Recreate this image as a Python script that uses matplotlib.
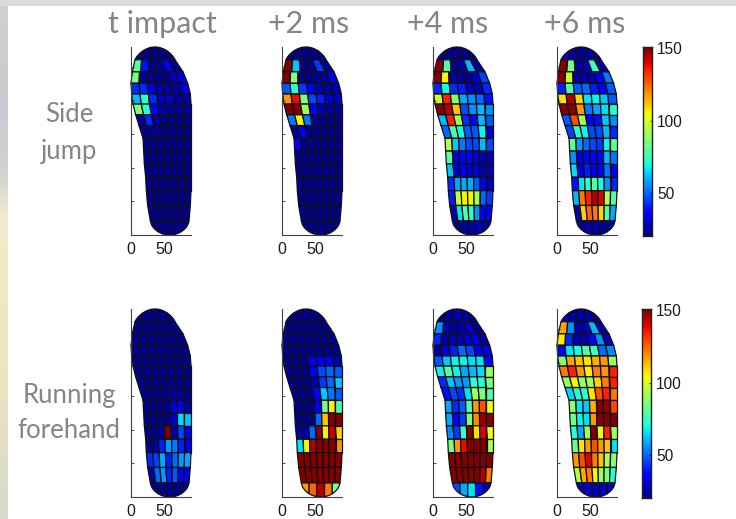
import numpy as np
import matplotlib
matplotlib.use("Agg")
import matplotlib.pyplot as plt
from matplotlib.collections import PolyCollection
from matplotlib.colors import LinearSegmentedColormap

W = 736
H = 519
VMIN = 20
VMAX = 151

titles = ["t impact", "+2 ms", "+4 ms", "+6 ms"]
title_x = [162, 309, 448, 585]
panel_x = [131, 282, 433, 557]
row_bottom = [235, 497]
cbar_x = [643, 642]
row_labels = ["Side", "jump", "Running", "forehand"]
row_label_y = [115, 152, 395, 430]
cbar_ticks = [50, 100, 150]

# insole outline in data units, from heel to toe
edge_y = [21, 44, 66, 86, 106, 125, 144, 163, 179, 195, 210, 226, 243, 261]
edge_left = [29, 25, 23, 22, 20, 19, 18, 12, 7, 3, 1, 0, 2, 6]
edge_right = [87, 89, 90, 90, 90, 90, 90, 90, 90, 90, 89, 85, 78, 66]
heel_x = 58
toe_x = 36
foot_height = 280

# sensor values, rows from toe to heel
side_0 = [
    [22, 22, 22, 22, 22],
    [80, 38, 22, 24, 36, 22],
    [85, 24, 22, 22, 22, 28, 32],
    [42, 42, 32, 26, 24, 24, 32],
    [60, 72, 42, 28, 30, 24, 24],
    [85, 72, 36, 25, 24, 24, 24],
    [24, 42, 24, 22, 22, 22, 22],
    [22, 22, 23, 22, 22, 22, 22],
    [22, 22, 22, 22, 22, 22, 22],
    [22, 22, 22, 22, 22, 22, 22],
    [22, 22, 22, 22, 22, 22, 22],
    [22, 22, 22, 22, 22, 22, 22],
    [22, 22, 22, 22, 22, 22, 22],
    [22, 22, 22, 22, 22, 22, 22],
    [22, 22, 22, 22, 22],
]
side_2 = [
    [22, 22, 22, 22, 22],
    [150, 62, 22, 22, 44, 22],
    [150, 88, 22, 22, 24, 24, 32],
    [48, 72, 44, 34, 26, 24, 26],
    [118, 138, 85, 46, 40, 30, 28],
    [150, 150, 90, 35, 26, 24, 24],
    [52, 105, 52, 24, 22, 22, 22],
    [22, 34, 22, 22, 22, 22, 22],
    [34, 22, 22, 22, 22, 22, 22],
    [22, 22, 22, 22, 22, 22, 22],
    [22, 22, 22, 22, 22, 22, 22],
    [22, 22, 22, 22, 22, 22, 22],
    [22, 22, 22, 22, 22, 22, 22],
    [22, 22, 22, 22, 22, 22, 22],
    [22, 22, 22, 22, 22],
]
side_4 = [
    [24, 22, 22, 22, 22],
    [150, 78, 22, 25, 60, 22],
    [150, 105, 25, 24, 22, 30, 45],
    [42, 70, 42, 40, 28, 26, 42],
    [98, 135, 88, 58, 55, 50, 38],
    [150, 145, 112, 46, 55, 60, 55],
    [60, 135, 92, 42, 36, 60, 48],
    [50, 78, 70, 48, 48, 68, 30],
    [95, 62, 52, 46, 46, 60, 46],
    [80, 30, 36, 36, 30, 26, 26],
    [62, 28, 36, 30, 30, 26, 26],
    [42, 58, 58, 58, 48, 34, 30],
    [40, 98, 105, 105, 92, 50, 44],
    [25, 66, 78, 72, 55, 36, 36],
    [22, 24, 24, 28, 24],
]
side_6 = [
    [32, 24, 24, 24, 22],
    [150, 84, 24, 28, 75, 24],
    [150, 98, 25, 25, 25, 36, 52],
    [40, 78, 48, 50, 40, 36, 48],
    [108, 145, 110, 65, 68, 62, 48],
    [150, 150, 118, 52, 58, 65, 72],
    [48, 128, 92, 36, 38, 62, 55],
    [45, 72, 68, 46, 46, 60, 42],
    [80, 56, 50, 46, 44, 68, 80],
    [55, 32, 36, 36, 34, 60, 52],
    [65, 32, 40, 34, 36, 52, 34],
    [38, 66, 74, 78, 70, 55, 42],
    [60, 122, 135, 145, 140, 95, 80],
    [25, 110, 125, 122, 110, 78, 58],
    [24, 26, 24, 24, 24],
]
run_0 = [
    [22, 22, 22, 22, 22],
    [22, 22, 22, 22, 22, 22],
    [22, 22, 22, 22, 22, 22, 22],
    [22, 22, 22, 22, 22, 22, 22],
    [22, 22, 22, 22, 22, 22, 22],
    [22, 22, 22, 22, 22, 22, 22],
    [22, 22, 22, 22, 22, 22, 22],
    [22, 22, 22, 22, 24, 24, 22],
    [22, 22, 22, 22, 32, 34, 24],
    [22, 22, 22, 22, 30, 65, 62],
    [22, 22, 24, 150, 26, 46, 32],
    [22, 24, 40, 56, 52, 40, 34],
    [42, 45, 58, 40, 50, 56, 58],
    [24, 50, 56, 40, 48, 36, 32],
    [22, 22, 22, 22, 22],
]
run_2 = [
    [22, 22, 22, 22, 22],
    [22, 22, 22, 22, 22, 22],
    [22, 22, 22, 22, 22, 22, 22],
    [22, 22, 22, 22, 22, 22, 22],
    [22, 22, 22, 34, 34, 36, 26],
    [22, 22, 22, 34, 46, 50, 48],
    [22, 22, 22, 26, 44, 50, 62],
    [22, 22, 22, 36, 62, 52, 48],
    [22, 22, 22, 34, 85, 106, 78],
    [22, 22, 22, 50, 112, 150, 150],
    [24, 26, 50, 150, 106, 142, 110],
    [66, 105, 145, 150, 150, 150, 118],
    [150, 150, 150, 150, 150, 150, 150],
    [150, 150, 150, 150, 150, 150, 150],
    [118, 125, 145, 122, 85],
]
run_4 = [
    [22, 24, 26, 24, 22],
    [55, 26, 24, 26, 30, 22],
    [42, 24, 26, 26, 30, 34, 24],
    [24, 30, 40, 50, 46, 32, 32],
    [48, 62, 68, 68, 65, 66, 36],
    [68, 78, 68, 58, 60, 65, 90],
    [42, 62, 56, 56, 72, 72, 85],
    [38, 46, 42, 66, 92, 85, 78],
    [58, 42, 48, 78, 118, 128, 102],
    [58, 34, 44, 85, 120, 148, 150],
    [54, 44, 75, 150, 108, 140, 104],
    [85, 118, 138, 150, 150, 150, 92],
    [150, 150, 150, 150, 150, 150, 150],
    [150, 150, 150, 150, 150, 145, 122],
    [46, 58, 66, 38, 26],
]
run_6 = [
    [30, 24, 24, 24, 24],
    [116, 55, 26, 28, 60, 25],
    [106, 42, 26, 26, 35, 55, 26],
    [34, 66, 70, 78, 76, 50, 54],
    [88, 116, 112, 108, 115, 118, 90],
    [122, 135, 118, 106, 122, 118, 135],
    [90, 105, 90, 92, 110, 122, 135],
    [64, 72, 72, 108, 128, 135, 122],
    [88, 66, 62, 115, 150, 148, 130],
    [82, 68, 66, 118, 150, 150, 150],
    [72, 58, 92, 150, 102, 135, 92],
    [82, 108, 118, 128, 118, 112, 66],
    [118, 128, 140, 122, 112, 92, 88],
    [95, 116, 122, 105, 90, 85, 72],
    [26, 30, 26, 28, 26],
]
panels = [[side_0, side_2, side_4, side_6], [run_0, run_2, run_4, run_6]]

# strip of the slide background on the left, top to bottom
strip_pos = [0.0, 0.2, 0.33, 0.42, 0.7, 1.0]
strip_colors = ["#d0d0ce", "#c8ccd2", "#d0d2d2", "#f0ebcc", "#ece6c0", "#d8d8cc"]


def ax_px(x0, y0, w, h):
    return [x0 / W, 1 - (y0 + h) / H, w / W, h / H]


def dome(xs, left, right, xc, height, power):
    half = np.where(xs < xc, xc - left, right - xc)
    t = np.clip(np.abs(xs - xc) / half, 0, 1)
    return height * (1 - t ** 2) ** power


def make_cells():
    ys = edge_y
    n_in = len(ys)
    cells = []

    # toe row, 5 sensors under a dome
    left, right = edge_left[-1], edge_right[-1]
    xe = np.linspace(left, right, 6)
    for i in range(5):
        xs = np.linspace(xe[i], xe[i + 1], 8)
        top = ys[-1] + dome(xs, left, right, toe_x, foot_height - ys[-1], 0.8)
        cells.append(np.column_stack([np.r_[xs, xe[i + 1], xe[i]], np.r_[top, ys[-1], ys[-1]]]))

    # second row has 6 sensors
    xu = np.linspace(edge_left[-1], edge_right[-1], 7)
    xd = np.linspace(edge_left[-2], edge_right[-2], 7)
    for i in range(6):
        cells.append(np.array([[xu[i], ys[-1]], [xu[i + 1], ys[-1]], [xd[i + 1], ys[-2]], [xd[i], ys[-2]]]))

    # the 7 sensor rows
    for r in range(n_in - 2, 0, -1):
        xu = np.linspace(edge_left[r], edge_right[r], 8)
        xd = np.linspace(edge_left[r - 1], edge_right[r - 1], 8)
        for i in range(7):
            cells.append(np.array([[xu[i], ys[r]], [xu[i + 1], ys[r]], [xd[i + 1], ys[r - 1]], [xd[i], ys[r - 1]]]))

    # heel row, 5 sensors
    left, right = edge_left[0], edge_right[0]
    xe = np.linspace(left, right, 6)
    for i in range(5):
        xs = np.linspace(xe[i], xe[i + 1], 8)
        low = ys[0] - dome(xs, left, right, heel_x, ys[0], 0.6)
        cells.append(np.column_stack([np.r_[xs, xe[i + 1], xe[i]], np.r_[low, ys[0], ys[0]]]))
    return cells


def draw_foot(ax, rows, cells):
    values = np.concatenate([np.asarray(r, dtype=float) for r in rows])
    pc = PolyCollection(cells, array=values, cmap="jet", edgecolors="#101010", linewidths=0.9)
    pc.set_clim(VMIN, VMAX)
    ax.add_collection(pc)
    ax.set_xlim(0, 90)
    ax.set_ylim(0, foot_height)
    ax.set_xticks([0, 50])
    ax.set_yticks([50, 100, 150, 200, 250])
    ax.set_yticklabels([])
    ax.tick_params(axis="both", direction="in", length=2, width=0.6, color="#303030", pad=5,
                   labelsize=11.5, labelcolor="#1a1a1a")
    ax.spines["top"].set_visible(False)
    ax.spines["right"].set_visible(False)
    ax.spines["left"].set_color("#404040")
    ax.spines["bottom"].set_color("#404040")
    ax.patch.set_alpha(0)
    for label in ax.get_xticklabels():
        label.set_fontfamily(["Liberation Sans", "DejaVu Sans"])
    pc.set_clip_on(False)


def main():
    fig = plt.figure(figsize=(W / 100, H / 100), dpi=100, facecolor="white")

    strip = LinearSegmentedColormap.from_list("strip", list(zip(strip_pos, strip_colors)))
    bg = fig.add_axes(ax_px(0, 0, 8, H))
    bg.imshow(np.linspace(0, 1, 256)[:, None], cmap=strip, aspect="auto", vmin=0, vmax=1)
    bg.axis("off")
    top = fig.add_axes(ax_px(0, 0, W, 6))
    top.set_facecolor("#dcdbd8")
    top.set_xticks([])
    top.set_yticks([])
    for s in top.spines.values():
        s.set_visible(False)

    cells = make_cells()
    for r, bottom in enumerate(row_bottom):
        for c, x0 in enumerate(panel_x):
            ax = fig.add_axes(ax_px(x0, bottom - 188, 60, 188))
            draw_foot(ax, panels[r][c], cells)

        cax = fig.add_axes(ax_px(cbar_x[r], bottom - 188, 9, 189))
        grad = np.linspace(VMIN, VMAX, 256)[:, None]
        cax.imshow(grad, cmap="jet", aspect="auto", origin="lower", extent=[0, 1, VMIN, VMAX], vmin=VMIN, vmax=VMAX)
        cax.set_xticks([])
        cax.yaxis.tick_right()
        cax.set_yticks(cbar_ticks)
        cax.tick_params(axis="y", direction="in", length=1.5, width=0.5, pad=3.5, labelsize=11.2, labelcolor="#1a1a1a")
        for s in cax.spines.values():
            s.set_linewidth(1.0)
            s.set_color("#202020")
        for label in cax.get_yticklabels():
            label.set_fontfamily(["Liberation Sans", "DejaVu Sans"])

    for name, y in zip(row_labels, row_label_y):
        fig.text(69 / W, 1 - y / H, name, ha="center", va="center", fontsize=18.5,
                 family=["Lato", "DejaVu Sans"], color="#858585")

    for name, x in zip(titles, title_x):
        fig.text(x / W, 1 - 24 / H, name, ha="center", va="center", fontsize=22,
                 family=["Lato", "DejaVu Sans"], color="#858585")

    fig.savefig("out.png", dpi=100)


if __name__ == "__main__":
    main()
